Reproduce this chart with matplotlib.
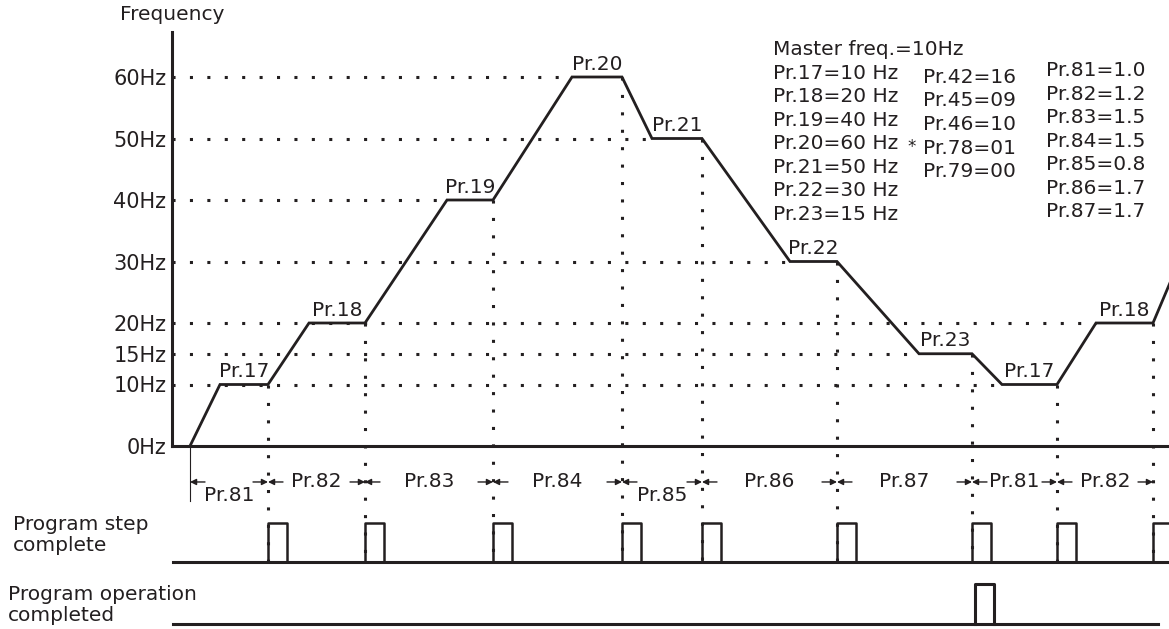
import matplotlib.pyplot as plt

INK = '#231f20'
plt.rcParams['font.family'] = ['DejaVu Sans']

# frequency steps of the program run (time axis in drawing units)
t_start = 190
levels = [10, 20, 40, 60, 50, 30, 15, 10, 20]
hold_start = [220, 309, 447, 572, 652, 790, 919, 1002, 1096]
step_end = [268, 365, 493, 622, 702, 837, 972, 1057, 1153]
next_t, next_f = 1205, 40
speed_names = ['Pr.17', 'Pr.18', 'Pr.19', 'Pr.20', 'Pr.21', 'Pr.22', 'Pr.23', 'Pr.17', 'Pr.18']
time_names = ['Pr.81', 'Pr.82', 'Pr.83', 'Pr.84', 'Pr.85', 'Pr.86', 'Pr.87', 'Pr.81', 'Pr.82']
op_done_step = 6

yticks = [0, 10, 15, 20, 30, 40, 50, 60]
ytick_labels = ['0Hz', '10Hz', '15Hz', '20Hz', '30Hz', '40Hz', '50Hz', '60Hz']

# parameter list on the right
master_freq = 'Master freq.=10Hz'
speed_params = ['Pr.17', 'Pr.18', 'Pr.19', 'Pr.20', 'Pr.21', 'Pr.22', 'Pr.23']
speed_values = [10, 20, 40, 60, 50, 30, 15]
other_params = ['Pr.42', 'Pr.45', 'Pr.46', 'Pr.78', 'Pr.79']
other_values = ['16', '09', '10', '01', '00']
time_params = ['Pr.81', 'Pr.82', 'Pr.83', 'Pr.84', 'Pr.85', 'Pr.86', 'Pr.87']
time_values = [1.0, 1.2, 1.5, 1.5, 0.8, 1.7, 1.7]

# layout (y in Hz units, 1 Hz ~ 6.15 px)
FS = 14.5
ARROW_Y = -5.85
LOW_Y = -8.0
STEP_BASE = -18.9
PULSE_H = 6.3
OP_BASE = -28.9
PULSE_W = 19
dots = dict(color=INK, lw=2.2, dashes=(1, 4.7), clip_on=False)

fig = plt.figure(figsize=(11.69, 6.29), dpi=100)
ax = fig.add_axes([172 / 1169, 183 / 629, 997 / 1169, 414 / 629])
ax.set_xlim(172, 1169)
ax.set_ylim(0, 414 / 6.15)
for s in ['top', 'right']:
    ax.spines[s].set_visible(False)
for s in ['left', 'bottom']:
    ax.spines[s].set_linewidth(2.2)
    ax.spines[s].set_color(INK)
ax.set_xticks([])
ax.set_yticks(yticks)
ax.set_yticklabels(ytick_labels, fontsize=15, color=INK)
ax.tick_params(axis='y', length=0, pad=4)
ax.text(120, 69.2, 'Frequency', fontsize=FS, color=INK, va='baseline')

# dotted reference lines for each level
for f in sorted(set(levels)):
    x_end = max(h for h, l in zip(hold_start, levels) if l == f)
    ax.plot([172, x_end], [f, f], **dots)

# vertical dotted lines at each step end
for x, f in zip(step_end, levels):
    ax.plot([x, x], [f, STEP_BASE], **dots)

# frequency curve
xs, ys = [t_start], [0]
for h, e, f in zip(hold_start, step_end, levels):
    xs += [h, e]
    ys += [f, f]
xs.append(next_t)
ys.append(next_f)
ax.plot(xs, ys, color=INK, lw=2.0, solid_joinstyle='miter', clip_on=True)

for h, e, f, name in zip(hold_start, step_end, levels, speed_names):
    ax.text((h + e) / 2, f + 1.2, name, fontsize=FS, color=INK, ha='center', va='baseline')

# step time intervals
ax.plot([t_start, t_start], [0, -8.9], color=INK, lw=0.8, clip_on=False)
starts = [t_start] + step_end[:-1]
arrow = dict(arrowstyle='-|>', lw=1.0, color=INK, mutation_scale=9, shrinkA=0, shrinkB=0)
for i, (a, b, name) in enumerate(zip(starts, step_end, time_names)):
    ax.annotate('', xy=(a, ARROW_Y), xytext=(a + 15, ARROW_Y), arrowprops=arrow, annotation_clip=False)
    ax.annotate('', xy=(b, ARROW_Y), xytext=(b - 15, ARROW_Y), arrowprops=arrow, annotation_clip=False)
    y = LOW_Y if i in (0, 4) else ARROW_Y
    ax.text((a + b) / 2, y, name, fontsize=FS, color=INK, ha='center', va='center')

# program step complete pulses
ax.plot([173, 1169], [STEP_BASE, STEP_BASE], color=INK, lw=2.2, clip_on=False)
for x in step_end:
    ax.plot([x, x, x + PULSE_W, x + PULSE_W],
            [STEP_BASE, STEP_BASE + PULSE_H, STEP_BASE + PULSE_H, STEP_BASE],
            color=INK, lw=1.8, clip_on=False)

# program operation completed pulse
ax.plot([173, 1158], [OP_BASE, OP_BASE], color=INK, lw=2.2, clip_on=False)
xo = step_end[op_done_step] + 3
ax.plot([xo, xo, xo + PULSE_W, xo + PULSE_W],
        [OP_BASE, OP_BASE + 6.5, OP_BASE + 6.5, OP_BASE],
        color=INK, lw=2.2, clip_on=False)

ax.text(13, -14.5, 'Program step\ncomplete', fontsize=FS, color=INK, va='center', linespacing=1.15)
ax.text(8, -25.9, 'Program operation\ncompleted', fontsize=FS, color=INK, va='center', linespacing=1.15)

# parameter table
ax.text(773, 64.4, master_freq, fontsize=FS, color=INK, va='center')
for i, (p, v) in enumerate(zip(speed_params, speed_values)):
    ax.text(773, 60.6 - i * 3.82, f'{p}={v} Hz', fontsize=FS, color=INK, va='center')
for i, (p, v) in enumerate(zip(other_params, other_values)):
    ax.text(923, 60.0 - i * 3.85, f'{p}={v}', fontsize=FS, color=INK, va='center')
ax.text(907, 48.6, '*', fontsize=12, color=INK, va='center')
for i, (p, v) in enumerate(zip(time_params, time_values)):
    ax.text(1046, 61.0 - i * 3.82, f'{p}={v:.1f}', fontsize=FS, color=INK, va='center')

fig.savefig('out.png', dpi=100)
